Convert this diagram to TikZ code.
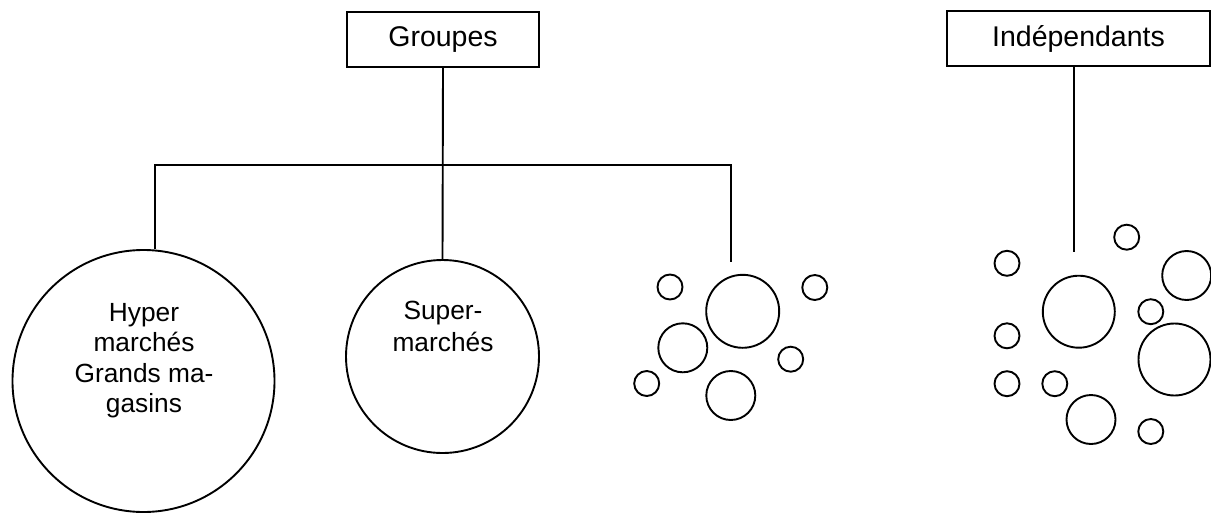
\documentclass[tikz,border=0pt]{standalone}
\usepackage{fontspec}
\setmainfont{Liberation Sans}
\begin{document}
\begin{tikzpicture}[x=1pt,y=-1pt,
  lw/.style={line width=1.9pt},
  titlebox/.style={draw,lw,inner sep=0pt,minimum height=55pt,font=\fontsize{28.5}{31}\selectfont},
  ring/.style={circle,draw,lw,inner sep=0pt,minimum size=#1},
  label/.style={inner sep=0pt,align=center,anchor=north}]
\useasboundingbox (0,0) rectangle (1211,515);

% headings
\node[titlebox,minimum width=192.6pt] (groupes) at (443,39.2) {Groupes};
\node[titlebox,minimum width=263pt] (indep) at (1078.5,38.8) {Indépendants};

% the two named store types
\node[ring=262pt] (hyper) at (143.5,381) {};
\node[ring=193pt] (super) at (442.5,356.5) {};
\node[label,font=\fontsize{26.3}{30.4}\selectfont] (hypertxt) at (144,302.9)
  {Hyper\\marchés\\Grands ma-\\gasins};
\node[label,font=\fontsize{26.3}{31.7}\selectfont] (supertxt) at (443,301)
  {Super-\\marchés};

% group branches
\coordinate (b1) at (155,165);
\coordinate (b3) at (731,165);
\coordinate (b3end) at (731,262);
\draw[lw] (groupes.south) -- (super.north);
\draw[lw] (b1 |- hyper.north) -- (b1) -- (b3) -- (b3end);

% small stores under the groups
\node[ring=25pt] (g1) at (670,287) {};
\node[ring=73pt] (g2) at (742.7,311.3) {};
\node[ring=25pt] (g3) at (814.8,287.5) {};
\node[ring=49pt] (g4) at (682.8,347.8) {};
\node[ring=25pt] (g5) at (790.7,359.2) {};
\node[ring=25pt] (g6) at (646.7,383.5) {};
\node[ring=49pt] (g7) at (730.8,395.5) {};

% independent stores
\coordinate (iend) at (1074.3,251.7);
\draw[lw] (iend |- indep.south) -- (iend);
\node[ring=25pt] (i1) at (1126.7,237.2) {};
\node[ring=25pt] (i2) at (1007,263.3) {};
\node[ring=49pt] (i3) at (1186.7,275.5) {};
\node[ring=72pt] (i4) at (1078.8,311.7) {};
\node[ring=25pt] (i5) at (1150.8,311.7) {};
\node[ring=25pt] (i6) at (1007,335.8) {};
\node[ring=72pt] (i7) at (1174.5,359.5) {};
\node[ring=25pt] (i8) at (1007,383.7) {};
\node[ring=25pt] (i9) at (1054.8,383.7) {};
\node[ring=49pt] (i10) at (1091,419.5) {};
\node[ring=25pt] (i11) at (1150.8,431.5) {};
\end{tikzpicture}
\end{document}
